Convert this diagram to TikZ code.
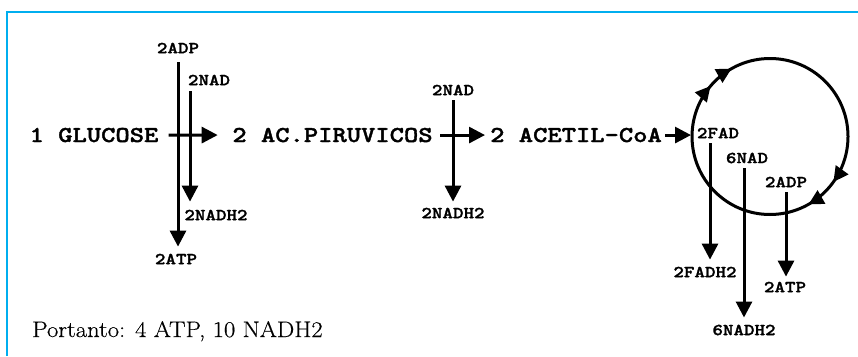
\documentclass[tikz,border=0pt]{standalone}
\usepackage{fontspec}
\usetikzlibrary{arrows.meta,decorations.markings}
\newfontfamily\monofont{lmmonolt10-bold}[Extension=.otf, FakeStretch=1.2, FakeBold=1.6]
\newfontfamily\sumfont{Latin Modern Roman}[FakeStretch=1.1, FakeBold=0.4]
\newcommand\bigmono{\monofont\fontsize{22.7pt}{24pt}\selectfont}
\newcommand\smallmono{\monofont\fontsize{16.7pt}{18pt}\selectfont}
\definecolor{framecol}{RGB}{0,174,239}
\begin{document}
\begin{tikzpicture}[x=1pt,y=-1pt,
  big/.style={font=\bigmono, inner sep=0pt, anchor=base},
  small/.style={font=\smallmono, inner sep=0pt},
  arr/.style={line width=3pt, -{Triangle[width=16pt,length=16pt]}},
  ring/.style={line width=3pt, postaction={decorate},
    decoration={markings,
      mark=at position 0.112 with {\arrow{Triangle[width=15pt,length=15pt]}},
      mark=at position 0.168 with {\arrow{Triangle[width=15pt,length=15pt]}},
      mark=at position 0.599 with {\arrow{Triangle[width=15pt,length=15pt]}},
      mark=at position 0.668 with {\arrow{Triangle[width=15pt,length=15pt]}}}}]
\useasboundingbox (0,0) rectangle (858,356);
\draw[framecol, line width=1.5pt] (7,356) -- (7,12) -- (858,12);

% main row
\node[big] (glu) at (94,142) {1 GLUCOSE};
\node[big] (piru) at (332.5,142) {2 AC.PIRUVICOS};
\node[big] (acet) at (576,142) {2 ACETIL-CoA};

% small labels
\node[small] (adp1) at (178,48) {2ADP};
\node[small] (nad1) at (209,80) {2NAD};
\node[small] (nadh1) at (216,215) {2NADH2};
\node[small] (atp1) at (176,259) {2ATP};
\node[small] (nad2) at (453,90) {2NAD};
\node[small] (nadh2) at (453,213) {2NADH2};
\node[small] (fad) at (718,133) {2FAD};
\node[small] (nad3) at (747,158) {6NAD};
\node[small] (adp2) at (786,182) {2ADP};
\node[small] (fadh) at (705,272) {2FADH2};
\node[small] (nadh3) at (744,330) {6NADH2};
\node[small] (atp2) at (785,287) {2ATP};

\node[anchor=base west, inner sep=0pt, font=\sumfont\fontsize{22.4pt}{26pt}\selectfont] (sum) at (32,337) {Portanto: 4 ATP, 10 NADH2};

% axes of vertical arrows
\coordinate (v1) at (178,0);
\coordinate (v2) at (190,0);
\coordinate (v3) at (453,0);
\coordinate (v4) at (710,0);
\coordinate (v5) at (744,0);
\coordinate (v6) at (786,0);

% cycle
\coordinate (cc) at (770,136.5);
\coordinate (cleft) at (692,136.5);
\draw[ring] (cc) ++(180:78) arc[start angle=180, end angle=540, radius=78];

% horizontal arrows
\draw[arr, shorten <=10pt, shorten >=14.5pt] (glu.east) -- (piru.west);
\draw[arr, shorten <=7.5pt, shorten >=5pt] (piru.east) -- (acet.west);
\draw[arr, shorten <=3pt, shorten >=1pt] (acet.east) -- (acet.east -| cleft);

% vertical arrows
\draw[arr, shorten <=9pt, shorten >=7pt] (adp1.south -| v1) -- (atp1.north -| v1);
\draw[arr, shorten <=6pt, shorten >=8pt] (nad1.south -| v2) -- (nadh1.north -| v2);
\draw[arr, shorten <=5pt, shorten >=6pt] (nad2.south -| v3) -- (nadh2.north -| v3);
\draw[arr, shorten <=5pt, shorten >=7pt] (fad.south -| v4) -- (fadh.north -| v4);
\draw[arr, shorten <=5pt, shorten >=7pt] (nad3.south -| v5) -- (nadh3.north -| v5);
\draw[arr, shorten <=5pt, shorten >=5pt] (adp2.south -| v6) -- (atp2.north -| v6);
\end{tikzpicture}
\end{document}
